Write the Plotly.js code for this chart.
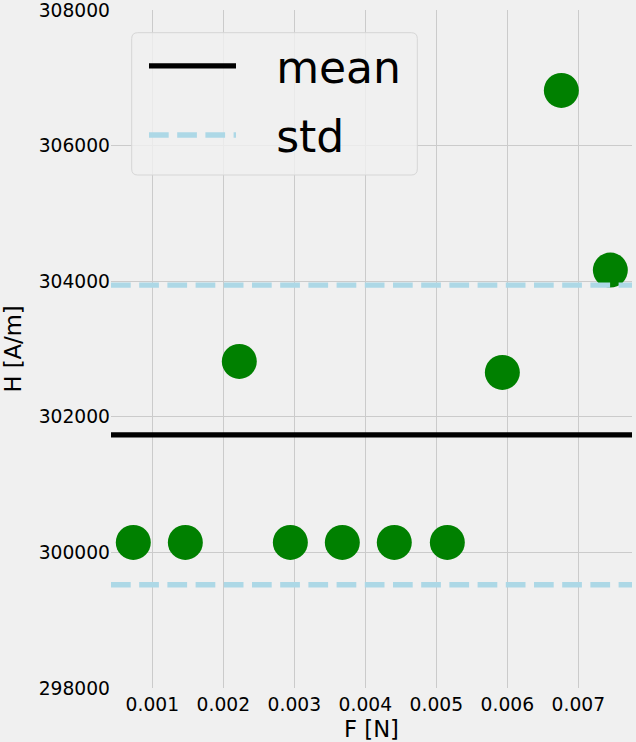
<!DOCTYPE html>
<html>
<head>
<meta charset="utf-8">
<script src="https://cdn.plot.ly/plotly-3.0.1.min.js"></script>
<style>html,body{margin:0;padding:0;background:#f0f0f0;}#chart{width:636px;height:742px;}</style>
</head>
<body>
<div id="chart"></div>
<script>
// Data
const forceN = [0.000732, 0.001465, 0.002225, 0.002944, 0.003676, 0.004408, 0.005155, 0.005930, 0.006761, 0.007451];
const fieldH = [300147, 300147, 302817, 300147, 300147, 300147, 300147, 302655, 306814, 304164];
const xRange = [0.000418, 0.007756];
const yRange = [298000, 308000];
const xTicks = [0.001, 0.002, 0.003, 0.004, 0.005, 0.006, 0.007];
const yTicks = [298000, 300000, 302000, 304000, 306000, 308000];
const seriesNames = ['mean', 'std'];

// statistics derived from the data (population std)
const n = fieldH.length;
const meanH = fieldH.reduce((a, b) => a + b, 0) / n;
const stdH = Math.sqrt(fieldH.reduce((a, b) => a + (b - meanH) * (b - meanH), 0) / n);

const font = 'DejaVu Sans, sans-serif';
const gap = '\u2002\u2009\u200A';

const traces = [
  {
    x: forceN, y: fieldH, type: 'scatter', mode: 'markers',
    marker: {color: '#008000', size: 35, line: {width: 0}},
    showlegend: false, hoverinfo: 'x+y'
  },
  {
    x: [xRange[0], xRange[1]], y: [meanH, meanH], type: 'scatter', mode: 'lines',
    name: gap + seriesNames[0], legendgroup: 'g1',
    line: {color: '#000000', width: 5.3}
  },
  {
    x: [xRange[0], xRange[1], null, xRange[0], xRange[1]],
    y: [meanH + stdH, meanH + stdH, null, meanH - stdH, meanH - stdH],
    type: 'scatter', mode: 'lines', connectgaps: false,
    name: gap + seriesNames[1], legendgroup: 'g2',
    line: {color: '#add8e6', width: 5.3, dash: '19.7px,8.5px'}
  }
];

// legend frame (rounded box) in paper coordinates
const plotW = 636 - 111 - 4, plotH = 742 - 10 - 54;
function px2x(p) { return (p - 111) / plotW; }
function px2y(p) { return (742 - 54 - p) / plotH; }
const bx0 = 131.7, bx1 = 417.3, by0 = 32.7, by1 = 175, rr = 6;
const framePath = [
  'M', px2x(bx0 + rr), px2y(by0),
  'L', px2x(bx1 - rr), px2y(by0),
  'Q', px2x(bx1), px2y(by0), px2x(bx1), px2y(by0 + rr),
  'L', px2x(bx1), px2y(by1 - rr),
  'Q', px2x(bx1), px2y(by1), px2x(bx1 - rr), px2y(by1),
  'L', px2x(bx0 + rr), px2y(by1),
  'Q', px2x(bx0), px2y(by1), px2x(bx0), px2y(by1 - rr),
  'L', px2x(bx0), px2y(by0 + rr),
  'Q', px2x(bx0), px2y(by0), px2x(bx0 + rr), px2y(by0), 'Z'
].join(' ');

const layout = {
  width: 636, height: 742,
  margin: {l: 111, r: 4, t: 10, b: 54},
  paper_bgcolor: '#f0f0f0', plot_bgcolor: '#f0f0f0',
  font: {family: font, color: '#000000', size: 18.7},
  xaxis: {
    range: xRange, tickvals: xTicks, tickformat: '.3f',
    showgrid: true, gridcolor: '#cbcbcb', gridwidth: 1,
    zeroline: false, showline: false, ticks: '', ticklen: 0,
    ticklabelstandoff: 3, ticklabeloverflow: 'allow',
    tickfont: {family: font, size: 18.7, color: '#000000'},
    title: {text: 'F [N]', font: {family: font, size: 22.7, color: '#000000'}, standoff: 8},
    automargin: false
  },
  yaxis: {
    range: yRange, tickvals: yTicks, tickformat: 'd',
    showgrid: true, gridcolor: '#cbcbcb', gridwidth: 1,
    zeroline: false, showline: false, ticks: '', ticklen: 0,
    ticklabeloverflow: 'allow',
    tickfont: {family: font, size: 18.7, color: '#000000'},
    title: {text: 'H [A/m]', font: {family: font, size: 22.7, color: '#000000'}, standoff: 11},
    automargin: false
  },
  shapes: [{
    type: 'path', xref: 'paper', yref: 'paper', path: framePath,
    fillcolor: 'rgba(240,240,240,0.8)', line: {color: '#d6d6d6', width: 1}, layer: 'above'
  }],
  showlegend: true,
  legend: {
    x: px2x(144), y: px2y(30.7), xanchor: 'left', yanchor: 'top',
    bgcolor: 'rgba(0,0,0,0)', borderwidth: 0,
    font: {family: font, size: 44, color: '#000000'},
    itemwidth: 87, tracegroupgap: 9
  }
};

Plotly.newPlot('chart', traces, layout, {displayModeBar: false, staticPlot: true});
</script>
</body>
</html>
